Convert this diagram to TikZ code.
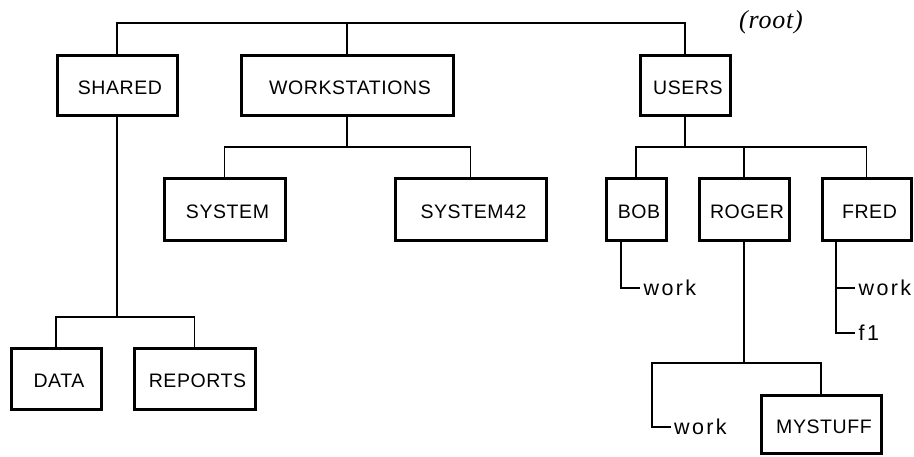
\documentclass[tikz,border=0pt]{standalone}
\usepackage{fontspec}
\newfontfamily\boxfont[LetterSpace=3]{Liberation Sans}
\newfontfamily\workfont[LetterSpace=11]{Liberation Sans}
\newfontfamily\rootfont[LetterSpace=3]{Liberation Serif}
\begin{document}
\begin{tikzpicture}[x=1pt,y=-1pt,
  dirbox/.style={draw,line width=3pt,minimum height=60pt,inner sep=0pt,
    text height=18pt,text depth=0pt,
    execute at begin node={\hspace*{6pt}},
    font=\boxfont\fontsize{19.5}{20}\selectfont},
  filelabel/.style={anchor=west,inner sep=3.5pt,
    font=\workfont\fontsize{21.5}{22}\selectfont},
  conn/.style={line width=1.3pt}]
\useasboundingbox (0,0) rectangle (914,456);
% directories
\node[dirbox,minimum width=120pt] (shared) at (117,85) {SHARED};
\node[dirbox,minimum width=212pt] (ws) at (347,85) {WORKSTATIONS};
\node[dirbox,minimum width=90pt] (users) at (685,85) {USERS};
\node[dirbox,minimum width=121pt,minimum height=62pt] (sys) at (224.5,209) {SYSTEM};
\node[dirbox,minimum width=151pt,minimum height=62pt] (sys42) at (470.5,209) {SYSTEM42};
\node[dirbox,minimum width=60pt,minimum height=62pt] (bob) at (636,209) {BOB};
\node[dirbox,minimum width=90pt,minimum height=62pt] (roger) at (744,209) {ROGER};
\node[dirbox,minimum width=89pt,minimum height=62pt] (fred) at (866.5,209) {FRED};
\node[dirbox,minimum width=90pt,minimum height=61pt] (data) at (56,378.5) {DATA};
\node[dirbox,minimum width=121pt,minimum height=61pt] (reports) at (194.5,378.5) {REPORTS};
\node[dirbox,minimum width=120pt,minimum height=58pt] (mystuff) at (821,424) {MYSTUFF};
% files
\node[filelabel] (bobwork) at (640,288) {work};
\node[filelabel] (fredwork) at (855,288) {work};
\node[filelabel] (f1) at (855,333) {f1};
\node[filelabel] (rwork) at (670.5,427) {work};
% root label
\node[font=\rootfont\itshape\fontsize{26}{28}\selectfont] (rootlabel) at (771,22) {(root)};
% connectors
\coordinate (rootbar) at (400,23);
\draw[conn] (shared.north) |- (rootbar) -| (users.north);
\draw[conn] (ws.north) -- (ws.north |- rootbar);
\coordinate (wsbar) at (347,147);
\draw[conn] (ws.south) -- (wsbar);
\draw[conn] (sys.north) |- (wsbar) -| (sys42.north);
\coordinate (ubar) at (685,147);
\draw[conn] (users.south) -- (ubar);
\draw[conn] (bob.north) |- (ubar) -| (fred.north);
\draw[conn] (roger.north) -- (roger.north |- ubar);
\coordinate (sbar) at (117,317);
\draw[conn] (shared.south) -- (sbar);
\draw[conn] (data.north) |- (sbar) -| (reports.north);
\coordinate (bl) at ([xshift=-15pt]bob.south);
\draw[conn] (bl) |- (bobwork.west);
\coordinate (fl) at ([xshift=-30.5pt]fred.south);
\draw[conn] (fl) |- (f1.west);
\draw[conn] (fl |- fredwork.west) -- (fredwork.west);
\coordinate (rl) at (652,363);
\draw[conn] (roger.south) -- (roger.south |- rl);
\draw[conn] (rwork.west) -| (rl) -| (mystuff.north);
\end{tikzpicture}
\end{document}
